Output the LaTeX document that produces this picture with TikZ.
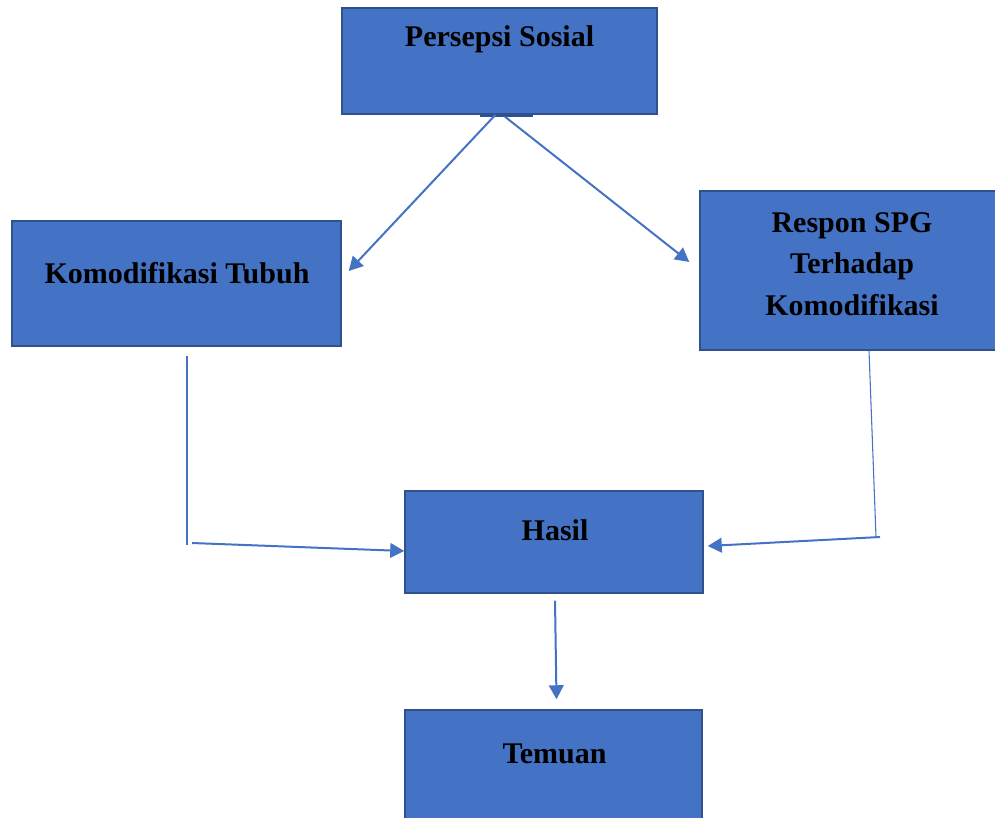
\documentclass[tikz,border=0pt]{standalone}
\usepackage{fontspec}
\setmainfont{Liberation Serif}
\usepackage{tikz}
\usetikzlibrary{arrows.meta, calc, positioning}
\definecolor{officeblue}{HTML}{4472C4}
\definecolor{borderblue}{HTML}{2F528F}

\begin{document}
\begin{tikzpicture}[x=0.75pt, y=-0.75pt,
        block/.style={rectangle, draw=borderblue, fill=officeblue, line width=1.1pt, inner sep=0pt},
        blocktext/.style={font=\fontsize{22.5}{31.1}\selectfont\bfseries, text=black, inner sep=0pt, align=center},
        link/.style={draw=officeblue, line width=1.5pt, -{Triangle[length=10.5pt, width=11pt]}},
        thinlink/.style={draw=officeblue, line width=0.8pt}
    ]
        \useasboundingbox (0,0) rectangle (995,817);
        \clip (0,0) rectangle (995,817);

        \node[block, minimum width=236.25pt, minimum height=79.5pt] (persepsi) at (499.5,61) {};
        \node[block, minimum width=246.75pt, minimum height=93.75pt] (komodifikasi) at (176.5,283.5) {};
        \node[block, minimum width=222pt, minimum height=119.25pt] (respon) at (848,270.5) {};
        \node[block, minimum width=223.5pt, minimum height=76.5pt] (hasil) at (554,542) {};
        \node[block, minimum width=222.75pt, minimum height=97.5pt] (temuan) at (553.5,775) {};

        \node[blocktext, anchor=base] (persepsiTxt) at (499.5,47) {Persepsi Sosial};
        \node[blocktext, anchor=base] (komodifikasiTxt) at (177,283) {Komodifikasi Tubuh};
        \node[blocktext, anchor=base] (responTxt) at (852,315) {Respon SPG\\Terhadap\\Komodifikasi};
        \node[blocktext, anchor=base] (hasilTxt) at (555,540) {Hasil};
        \node[blocktext, anchor=base] (temuanTxt) at (554.5,763) {Temuan};

        \draw[borderblue, line width=1.5pt] ($(persepsi.south)+(-20,1)$) -- ($(persepsi.south)+(33,1)$);

        \draw[link] ($(persepsi.south)+(-4,0)$) -- ($(komodifikasi.east)+(7,-12.5)$);
        \draw[link] ($(persepsi.south)+(5.5,2)$) -- ($(respon.west)+(-10,-8.5)$);

        \coordinate (kEnd) at (187,545);
        \coordinate (kStart) at (192,543);
        \draw[thinlink] ($(komodifikasi.south)+(10.5,9)$) -- (kEnd);
        \draw[link] (kStart) -- ($(hasil.west)+(0,9)$);

        \coordinate (rEnd) at (876,537);
        \coordinate (rStart) at (880,537);
        \draw[thinlink] ($(respon.south)+(21,0)$) -- (rEnd);
        \draw[link] (rStart) -- ($(hasil.east)+(4,4)$);

        \draw[link] ($(hasil.south)+(1,7)$) -- ($(temuan.north)+(3,-10)$);
    \end{tikzpicture}
\end{document}
